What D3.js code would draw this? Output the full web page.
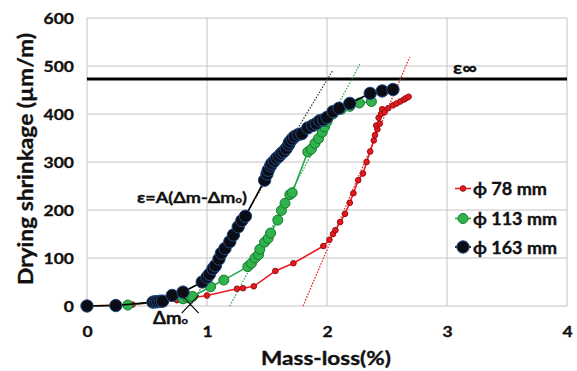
<!DOCTYPE html>
<html>
<head>
<meta charset="utf-8">
<script src="https://cdn.jsdelivr.net/npm/d3@7"></script>
<style>
  html, body { margin: 0; padding: 0; background: #ffffff; }
  svg { display: block; }
  text { font-family: Lato, "Open Sans", "DejaVu Sans", sans-serif; font-weight: 700; fill: #111; stroke: #111; stroke-width: 0.35px; }
</style>
</head>
<body>
<svg id="chart" width="577" height="371"></svg>
<script>
// Mass-loss (%) vs drying shrinkage (µm/m) for three specimen diameters
const xTicks = [0, 1, 2, 3, 4];
const yTicks = [0, 100, 200, 300, 400, 500, 600];

const seriesNames = ["ϕ 78 mm", "ϕ 113 mm", "ϕ 163 mm"];

const phi78 = [
  [0, 0], [0.38, 3], [0.75, 12], [1.0, 22], [1.25, 36], [1.30, 37], [1.39, 41],
  [1.57, 73], [1.72, 89], [1.97, 125], [2.02, 138], [2.05, 150], [2.07, 158],
  [2.11, 175], [2.15, 192], [2.19, 215], [2.22, 235], [2.26, 262], [2.30, 276],
  [2.33, 300], [2.36, 322], [2.39, 345], [2.40, 356], [2.42, 368], [2.41, 376],
  [2.44, 380], [2.43, 392], [2.45, 400], [2.46, 410], [2.48, 404], [2.51, 412],
  [2.55, 418], [2.58, 422], [2.61, 426], [2.64, 430], [2.66, 433], [2.68, 436]
];

const phi113 = [
  [0, 0], [0.34, 2], [0.80, 15], [0.84, 17], [0.88, 20], [1.03, 40], [1.14, 54],
  [1.34, 82], [1.37, 89], [1.40, 100], [1.43, 107], [1.44, 118], [1.48, 133],
  [1.51, 141], [1.53, 152], [1.59, 179], [1.62, 199], [1.65, 214], [1.69, 232],
  [1.71, 236], [1.84, 321], [1.87, 327], [1.90, 339], [1.93, 349], [1.96, 362],
  [1.98, 373], [2.00, 384], [2.05, 400], [2.12, 410], [2.19, 416], [2.27, 423],
  [2.37, 426]
];

const phi163 = [
  [0, 0], [0.24, 1], [0.55, 8], [0.57, 9], [0.59, 9], [0.61, 10], [0.63, 10],
  [0.71, 22], [0.80, 29], [0.96, 50], [1.00, 60], [1.02, 66], [1.05, 78],
  [1.07, 84], [1.10, 98], [1.12, 110], [1.15, 120], [1.19, 134], [1.22, 148],
  [1.26, 165], [1.29, 178], [1.32, 187], [1.48, 262], [1.50, 275], [1.51, 283],
  [1.53, 292], [1.54, 297], [1.56, 302], [1.58, 308], [1.60, 312], [1.62, 318],
  [1.64, 322], [1.66, 328], [1.68, 336], [1.69, 342], [1.71, 348], [1.73, 353],
  [1.76, 357], [1.79, 359], [1.84, 371], [1.88, 376], [1.91, 380], [1.94, 386],
  [1.97, 388], [2.00, 393], [2.05, 405], [2.10, 412], [2.19, 422], [2.36, 443],
  [2.46, 448], [2.55, 451]
];

// Linear fits ε = A(Δm − Δm0), drawn from Δm0 up to xEnd
const fitDm0 = [1.80, 1.19, 0.86];
const fitSlope = [583, 465, 413];
const fitEnd = [2.69, 2.275, 2.05];

const epsInfinity = 473;
const dm0Marker = [0.86, 4];

// ---- layout ----
const W = 577, H = 371;
const margin = { top: 18, right: 10, bottom: 65, left: 87 };
const SX = 1.13; // horizontal text stretch

const svg = d3.select("#chart");
const x = d3.scaleLinear().domain([0, 4]).range([margin.left, W - margin.right]);
const y = d3.scaleLinear().domain([0, 600]).range([H - margin.bottom, margin.top]);

const colors = {
  line: ["#ec1c24", "#22a84a", "#000000"],
  fill: ["#e3191f", "#30b34c", "#0b0c14"],
  stroke: ["#9a0c0c", "#157a2c", "#1f4a86"],
  fit: ["#e3191f", "#22a84a", "#333333"],
  r: [2.8, 5, 6.2],
  w: [1.6, 1.6, 1.6]
};

// gridlines
const grid = svg.append("g");
grid.selectAll("line.h").data(yTicks).join("line")
  .attr("x1", x(0)).attr("x2", x(4))
  .attr("y1", d => y(d)).attr("y2", d => y(d))
  .attr("stroke", "#c4c4c4").attr("stroke-width", 1);
grid.selectAll("line.v").data(xTicks).join("line")
  .attr("y1", y(0)).attr("y2", y(600))
  .attr("x1", d => x(d)).attr("x2", d => x(d))
  .attr("stroke", "#c4c4c4").attr("stroke-width", 1);

// axes (labels only; gridlines serve as the frame)
const yAxis = svg.append("g").attr("transform", `translate(${margin.left},0)`)
  .call(d3.axisLeft(y).tickValues(yTicks).tickFormat(d3.format("d")).tickSize(0).tickPadding(0));
yAxis.select(".domain").remove();
yAxis.selectAll("text")
  .attr("x", -13 / SX).attr("dy", "0.36em")
  .attr("transform", `scale(${SX},1)`)
  .style("font-size", "15.5px").attr("fill", "#111");

const xAxis = svg.append("g").attr("transform", `translate(0,${y(0)})`)
  .call(d3.axisBottom(x).tickValues(xTicks).tickFormat(d3.format("d")).tickSize(0).tickPadding(0));
xAxis.select(".domain").remove();
xAxis.selectAll("text")
  .attr("y", 20).attr("dy", "0.71em").attr("x", 0)
  .attr("transform", `scale(${SX},1)`)
  .style("font-size", "15.5px").attr("fill", "#111");

// text fitted to a given run length
function fitted(str, px, py, size, anchor, len, rotate) {
  return svg.append("text")
    .attr("transform", `translate(${px},${py})` + (rotate ? " rotate(-90)" : ""))
    .attr("text-anchor", anchor)
    .attr("textLength", len).attr("lengthAdjust", "spacingAndGlyphs")
    .style("font-size", size + "px")
    .text(str);
}

fitted("Mass-loss(%)", 326, 365, 18.5, "middle", 130, false);
fitted("Drying shrinkage (µm/m)", 33, 159, 20.5, "middle", 252, true);

// ε∞ asymptote
svg.append("line")
  .attr("x1", x(0)).attr("x2", x(4))
  .attr("y1", y(epsInfinity)).attr("y2", y(epsInfinity))
  .attr("stroke", "#000").attr("stroke-width", 3);
fitted("ε∞", 453, 73.5, 17, "start", 24, false);

// fit lines (dotted)
fitDm0.forEach((x0, i) => {
  const x1 = fitEnd[i];
  svg.append("line")
    .attr("x1", x(x0)).attr("y1", y(0))
    .attr("x2", x(x1)).attr("y2", y(fitSlope[i] * (x1 - x0)))
    .attr("stroke", colors.fit[i]).attr("stroke-width", 1.2)
    .attr("stroke-dasharray", "1.5,1.5");
});

// data series
const allSeries = [phi78, phi113, phi163];
const lineGen = d3.line().x(d => x(d[0])).y(d => y(d[1]));
allSeries.forEach((data, i) => {
  const g = svg.append("g");
  g.append("path").datum(data)
    .attr("d", lineGen).attr("fill", "none")
    .attr("stroke", colors.line[i]).attr("stroke-width", colors.w[i]);
  g.selectAll("circle").data(data).join("circle")
    .attr("cx", d => x(d[0])).attr("cy", d => y(d[1]))
    .attr("r", colors.r[i])
    .attr("fill", colors.fill[i]).attr("stroke", colors.stroke[i]).attr("stroke-width", 1);
});

// Δm0 cross marker
const cx = x(dm0Marker[0]), cy = y(dm0Marker[1]);
svg.append("path")
  .attr("d", `M${cx - 8.5},${cy - 9}L${cx + 8.5},${cy + 9}M${cx + 8.5},${cy - 9}L${cx - 8.5},${cy + 9}`)
  .attr("stroke", "#111").attr("stroke-width", 1.3).attr("fill", "none");

// annotations
const dmLabel = svg.append("text")
  .attr("transform", `translate(153,324) scale(${SX},1)`)
  .style("font-size", "16.5px");
dmLabel.append("tspan").text("Δm");
dmLabel.append("tspan").style("font-size", "10px").text("o");

const eqLabel = svg.append("text")
  .attr("transform", `translate(137,203) scale(${SX},1)`)
  .style("font-size", "16px");
eqLabel.append("tspan").text("ε=A(Δm-Δm");
eqLabel.append("tspan").style("font-size", "10px").text("o");
eqLabel.append("tspan").text(")");

// legend
const legendRows = [188.5, 218.5, 247];
const legendLen = [74, 84, 84];
seriesNames.forEach((name, i) => {
  const ly = legendRows[i];
  svg.append("line")
    .attr("x1", 455).attr("x2", 471).attr("y1", ly).attr("y2", ly)
    .attr("stroke", colors.line[i]).attr("stroke-width", colors.w[i]);
  svg.append("circle")
    .attr("cx", 463).attr("cy", ly).attr("r", colors.r[i])
    .attr("fill", colors.fill[i]).attr("stroke", colors.stroke[i]).attr("stroke-width", 1);
  fitted(name, 473, ly + 6.5, 16.5, "start", legendLen[i], false);
});
</script>
</body>
</html>
